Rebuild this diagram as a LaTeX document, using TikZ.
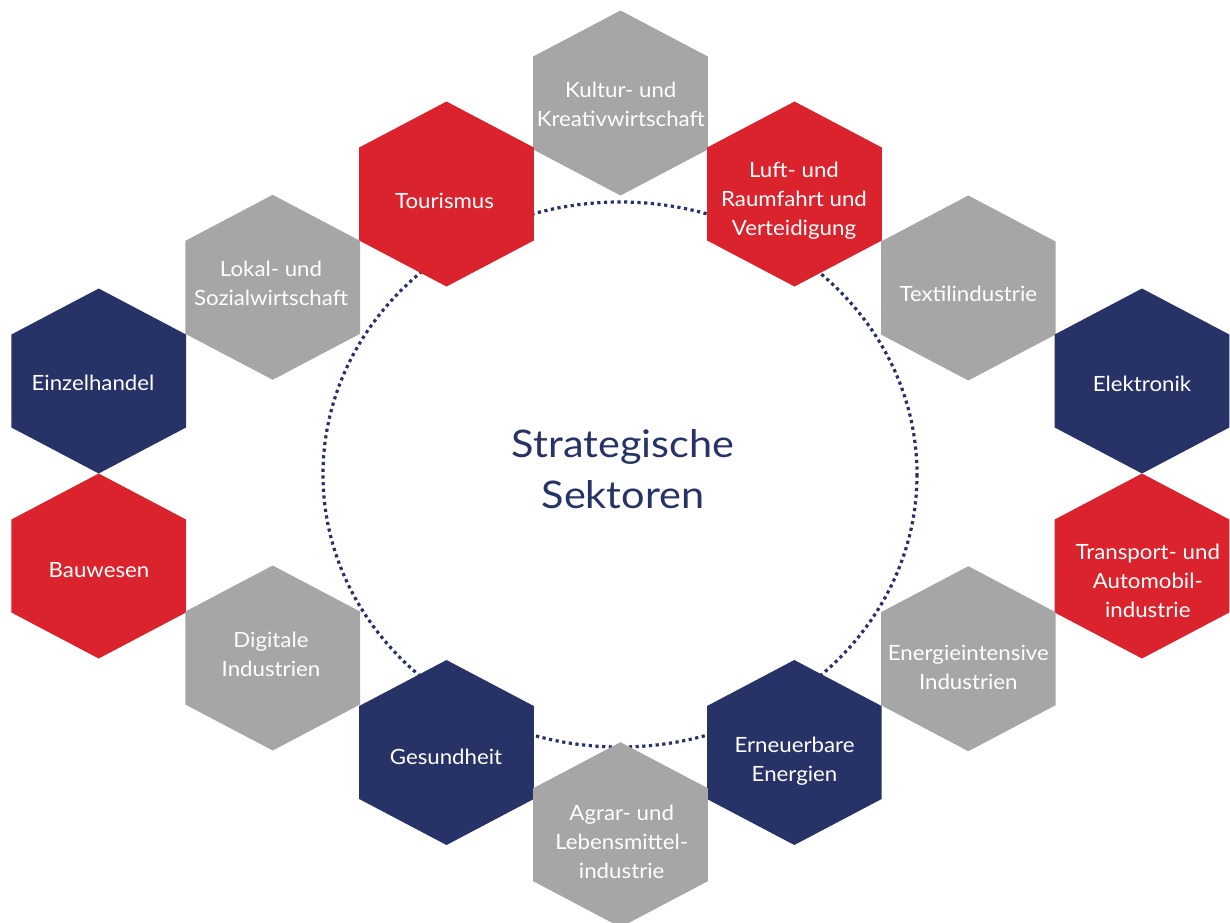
\documentclass[tikz,border=0pt]{standalone}
\usepackage{fontspec}
\setmainfont[FakeStretch=1.06]{Lato}
\newfontfamily\titlefont[FakeStretch=1.09]{Lato}
\definecolor{secred}{RGB}{218,35,45}
\definecolor{secnavy}{RGB}{39,51,102}
\definecolor{secgray}{RGB}{166,166,166}
\tikzset{
  hexfill/.style={fill=#1},
  hexlabel/.style={text=white, align=center, inner sep=0pt,
    font=\fontsize{21}{29}\selectfont},
  centrelabel/.style={text=secnavy, align=center, inner sep=0pt,
    font=\titlefont\fontsize{38}{51}\selectfont},
  ring/.style={draw=secnavy, line width=3.2pt, dash pattern=on 3.2pt off 3.5pt}
}
% \sector{name}{centre}{colour}{label position}{text}
\newcommand\sector[5]{%
  \fill[hexfill=#3, shift={(#2)}]
    (0,-92.5) -- (87.3,-46.5) -- (87.3,46.5) -- (0,92.5)
    -- (-87.3,46.5) -- (-87.3,-46.5) -- cycle;
  \node[hexlabel] (#1) at (#4) {#5};%
}
\begin{document}
\begin{tikzpicture}[x=1pt,y=-1pt]
  \useasboundingbox (0,0) rectangle (1230,922);
  \clip (0,0) rectangle (1230,922);
  % dotted ring behind the hexagons
  \draw[ring] (620,474.5) ellipse [x radius=297, y radius=272.5];
  % hexagons
  \sector{kultur}{620.5,103}{secgray}{620.8,104}{Kultur- und\\Kreativwirtschaft}
  \sector{tourismus}{446.5,194}{secred}{444.5,200.8}{Tourismus}
  \sector{luft}{794.5,194}{secred}{794,200.5}{Luft- und\\Raumfahrt und\\Verteidigung}
  \sector{lokal}{272.7,287.3}{secgray}{271,283.3}{Lokal- und\\Sozialwirtschaft}
  \sector{textil}{968.3,288}{secgray}{968.3,293.8}{Textilindustrie}
  \sector{einzel}{98.7,381}{secnavy}{93,383.3}{Einzelhandel}
  \sector{elektronik}{1142,381}{secnavy}{1142,383.5}{Elektronik}
  \sector{bau}{98.7,566}{secred}{99,570}{Bauwesen}
  \sector{transport}{1142,566}{secred}{1147.8,581}{Transport- und\\Automobil-\\industrie}
  \sector{digital}{272.7,658}{secgray}{271,654}{Digitale\\Industrien}
  \sector{energie}{968.3,658.7}{secgray}{968.3,667}{Energieintensive\\Industrien}
  \sector{gesundheit}{446.5,752.5}{secnavy}{446,757}{Gesundheit}
  \sector{erneuerbar}{794.3,752.5}{secnavy}{794.5,761}{Erneuerbare\\Energien}
  \sector{agrar}{620.5,834.7}{secgray}{621.7,842}{Agrar- und\\Lebensmittel-\\industrie}
  % centre title
  \node[centrelabel] (title) at (623,469) {Strategische\\Sektoren};
\end{tikzpicture}
\end{document}
